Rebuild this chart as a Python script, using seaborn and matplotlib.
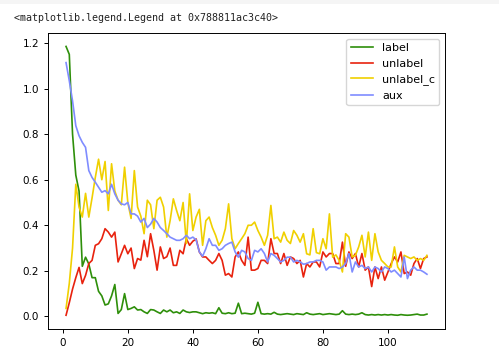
import matplotlib
matplotlib.use("Agg")
import matplotlib.pyplot as plt
import seaborn as sns
import numpy as np
from matplotlib.patches import Rectangle

epochs = list(range(1, 113))

label = [1.185, 1.15, 0.80, 0.62, 0.55, 0.22, 0.26, 0.23, 0.17, 0.17,
         0.11, 0.09, 0.05, 0.055, 0.09, 0.14, 0.013, 0.03, 0.10, 0.03,
         0.035, 0.042, 0.028, 0.03, 0.02, 0.013, 0.03, 0.028, 0.02, 0.013,
         0.028, 0.02, 0.028, 0.016, 0.02, 0.013, 0.028, 0.02, 0.017, 0.02,
         0.02, 0.016, 0.012, 0.016, 0.014, 0.016, 0.012, 0.038, 0.014, 0.012,
         0.016, 0.012, 0.014, 0.058, 0.012, 0.014, 0.012, 0.010, 0.014, 0.062,
         0.012, 0.010, 0.012, 0.010, 0.018, 0.010, 0.008, 0.010, 0.012, 0.010,
         0.008, 0.012, 0.010, 0.008, 0.016, 0.010, 0.008, 0.010, 0.012, 0.008,
         0.010, 0.012, 0.010, 0.008, 0.010, 0.025, 0.010, 0.008, 0.010, 0.008,
         0.010, 0.016, 0.008, 0.006, 0.008, 0.006, 0.008, 0.006, 0.008, 0.006,
         0.008, 0.006, 0.005, 0.008, 0.006, 0.005, 0.006, 0.008, 0.010, 0.006,
         0.006, 0.010]

unlabel = [0.005, 0.06, 0.12, 0.17, 0.215, 0.144, 0.18, 0.232, 0.246, 0.312,
           0.319, 0.341, 0.385, 0.37, 0.348, 0.37, 0.239, 0.275, 0.312, 0.275,
           0.30, 0.21, 0.254, 0.247, 0.334, 0.262, 0.363, 0.29, 0.203, 0.305,
           0.254, 0.262, 0.30, 0.224, 0.224, 0.29, 0.275, 0.341, 0.312, 0.33,
           0.34, 0.283, 0.261, 0.261, 0.246, 0.232, 0.246, 0.276, 0.246, 0.181,
           0.188, 0.173, 0.261, 0.283, 0.246, 0.224, 0.348, 0.203, 0.203, 0.21,
           0.246, 0.246, 0.232, 0.341, 0.276, 0.276, 0.232, 0.276, 0.224, 0.261,
           0.254, 0.232, 0.246, 0.173, 0.232, 0.217, 0.239, 0.239, 0.217, 0.283,
           0.261, 0.276, 0.276, 0.232, 0.232, 0.326, 0.220, 0.283, 0.254, 0.276,
           0.217, 0.276, 0.203, 0.217, 0.131, 0.217, 0.166, 0.217, 0.159, 0.195,
           0.232, 0.261, 0.239, 0.283, 0.188, 0.195, 0.181, 0.232, 0.254, 0.21,
           0.254, 0.261]

unlabel_c = [0.035, 0.145, 0.30, 0.58, 0.48, 0.436, 0.54, 0.436, 0.52, 0.61,
             0.69, 0.60, 0.68, 0.465, 0.67, 0.55, 0.51, 0.49, 0.655, 0.50,
             0.43, 0.64, 0.48, 0.44, 0.363, 0.51, 0.49, 0.385, 0.51, 0.523,
             0.48, 0.348, 0.42, 0.516, 0.465, 0.42, 0.50, 0.32, 0.538, 0.377,
             0.436, 0.47, 0.312, 0.42, 0.436, 0.39, 0.356, 0.312, 0.334, 0.385,
             0.494, 0.341, 0.297, 0.32, 0.341, 0.363, 0.40, 0.40, 0.414, 0.377,
             0.348, 0.312, 0.356, 0.487, 0.341, 0.348, 0.326, 0.37, 0.334, 0.32,
             0.377, 0.356, 0.326, 0.363, 0.275, 0.27, 0.385, 0.28, 0.275, 0.341,
             0.297, 0.45, 0.26, 0.27, 0.246, 0.195, 0.363, 0.348, 0.261, 0.268,
             0.305, 0.356, 0.261, 0.37, 0.246, 0.363, 0.283, 0.246, 0.232, 0.217,
             0.217, 0.305, 0.217, 0.195, 0.268, 0.261, 0.254, 0.261, 0.246, 0.254,
             0.246, 0.268]

aux = [1.114, 1.034, 0.946, 0.837, 0.793, 0.764, 0.742, 0.64, 0.61, 0.589,
       0.567, 0.545, 0.552, 0.538, 0.58, 0.538, 0.51, 0.494, 0.49, 0.50,
       0.45, 0.45, 0.44, 0.414, 0.43, 0.39, 0.405, 0.43, 0.414, 0.39,
       0.377, 0.363, 0.348, 0.341, 0.334, 0.334, 0.341, 0.356, 0.341, 0.348,
       0.336, 0.283, 0.264, 0.297, 0.341, 0.312, 0.312, 0.29, 0.297, 0.312,
       0.32, 0.326, 0.283, 0.26, 0.29, 0.283, 0.254, 0.246, 0.29, 0.283,
       0.297, 0.276, 0.239, 0.276, 0.268, 0.254, 0.239, 0.246, 0.26, 0.26,
       0.239, 0.246, 0.239, 0.229, 0.232, 0.239, 0.239, 0.246, 0.246, 0.239,
       0.203, 0.217, 0.217, 0.217, 0.21, 0.217, 0.232, 0.276, 0.195, 0.239,
       0.217, 0.224, 0.21, 0.217, 0.195, 0.217, 0.21, 0.195, 0.217, 0.21,
       0.195, 0.203, 0.188, 0.173, 0.261, 0.166, 0.203, 0.217, 0.203, 0.203,
       0.195, 0.185]

series = [("label", label, "#2e8f0a"),
          ("unlabel", unlabel, "#e8220e"),
          ("unlabel_c", unlabel_c, "#f0d000"),
          ("aux", aux, "#7f8cff")]

plt.rcParams["font.size"] = 7.5

fig = plt.figure(figsize=(4.99, 3.62), dpi=100)
# notebook output strip + repr text
fig.patches.append(Rectangle((0, 0.988), 1, 0.012, transform=fig.transFigure,
                             facecolor="#f5f5f5", edgecolor="none"))
fig.text(14 / 499, 1 - 18 / 362, "<matplotlib.legend.Legend at 0x788811ac3c40>",
         family="DejaVu Sans Mono", fontsize=7.2, va="center", ha="left",
         color="#222222")

ax = fig.add_axes([48 / 499, 1 - 328.7 / 362, 397 / 499, 295.7 / 362])
for name, vals, col in series:
    sns.lineplot(x=epochs, y=vals, ax=ax, label=name, color=col, linewidth=1.2)

ax.set_xticks([0, 20, 40, 60, 80, 100])
ax.set_yticks(np.arange(0, 1.21, 0.2))
ax.tick_params(labelsize=7.5, length=3, width=0.7)
for s in ax.spines.values():
    s.set_linewidth(0.7)
ax.legend(loc="upper right", fontsize=8)

plt.savefig("out.png", dpi=100)
